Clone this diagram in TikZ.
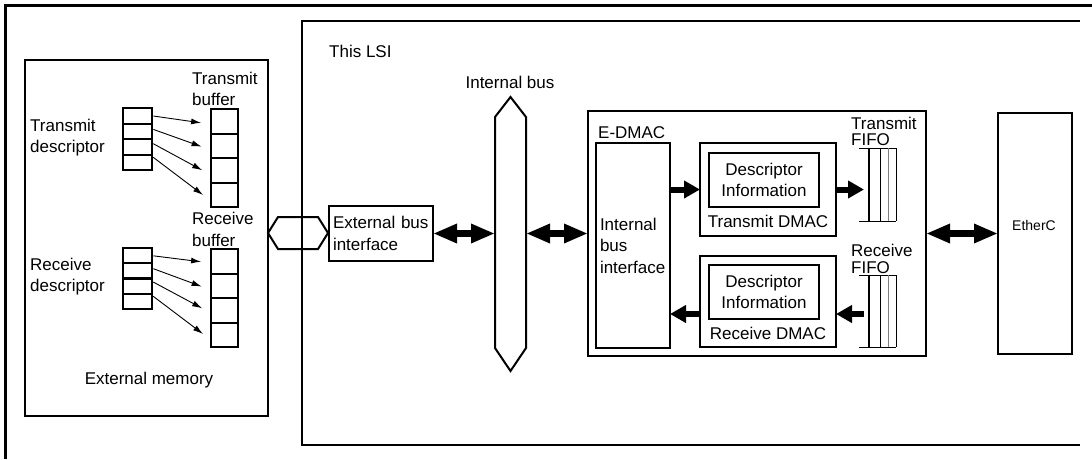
\documentclass[tikz,border=0pt]{standalone}
\usepackage{fontspec}
\setmainfont{Liberation Sans}
\usetikzlibrary{arrows.meta}
\begin{document}
\begin{tikzpicture}[x=1pt,y=-1pt,
  font=\fontsize{17}{21.5}\selectfont,
  box/.style={draw, line width=2pt, inner sep=0pt, outer sep=0pt},
  cell/.style={draw, line width=2pt, inner sep=0pt, outer sep=0pt},
  ghost/.style={inner sep=0pt, outer sep=0pt},
  txt/.style={inner sep=0pt, align=left},
  ctxt/.style={inner sep=0pt, align=center},
  fifotxt/.style={inner sep=0pt, align=left, font=\fontsize{17}{16.5}\selectfont},
  bigarr/.style={line width=6.5pt, {Triangle[length=24pt,width=18pt]}-{Triangle[length=24pt,width=18pt]}},
  smallarr/.style={line width=6pt, -{Triangle[length=16pt,width=17pt]}},
  thinarr/.style={line width=0.9pt, -{Latex[length=10pt,width=6pt]}, shorten <=2pt, shorten >=10pt},
  fifoline/.style={line width=1pt},
]
\useasboundingbox (0,0) rectangle (1092,459);

% outer frame and LSI frame
\draw[line width=2.5pt] (1092,5.5) -- (5.5,5.5) -- (5.5,459);
\draw[line width=1.8pt] (1080,21) -- (302,21) -- (302,445) -- (1080,445);

% external memory
\node[box, minimum width=243pt, minimum height=356pt] (extmem) at (146.5,238) {};
\node[ctxt] (extmemlbl) at (149,380) {External memory};

\foreach \i/\y in {1/115.75,2/131.25,3/146.75,4/162.25}
  \node[cell, minimum width=29pt, minimum height=15.5pt] (td\i) at (137,\y) {};
\foreach \i/\y in {1/121.25,2/145.75,3/170.25,4/194.75}
  \node[cell, minimum width=27pt, minimum height=24.5pt] (tb\i) at (224.5,\y) {};
\foreach \i/\y in {1/255.6,2/270.9,3/286.1,4/301.4}
  \node[cell, minimum width=29pt, minimum height=15.25pt] (rd\i) at (137,\y) {};
\foreach \i/\y in {1/261.25,2/285.75,3/310.25,4/334.75}
  \node[cell, minimum width=27pt, minimum height=24.5pt] (rb\i) at (224.5,\y) {};

\node[txt, anchor=west] (tdlbl) at (30,137.5) {Transmit\\descriptor};
\node[txt, anchor=west] (tblbl) at (192,89) {Transmit\\buffer};
\node[txt, anchor=west] (rdlbl) at (30,276.5) {Receive\\descriptor};
\node[txt, anchor=west] (rblbl) at (192,229.5) {Receive\\buffer};

\foreach \i/\s/\e in {1/0/-3, 2/2.5/-4.25, 3/4/-4.75, 4/6.25/-6.25}
  \draw[thinarr] ([yshift=\s pt]td\i.east) -- ([yshift=\e pt]tb\i.west);
\foreach \i/\s/\e in {1/0/-1.75, 2/2.9/-4.25, 3/5/-2.75, 4/6.4/-5.25}
  \draw[thinarr] ([yshift=\s pt]rd\i.east) -- ([yshift=\e pt]rb\i.west);

% external bus connector
\node[ghost, minimum width=40pt, minimum height=32pt] (xcon) at (298,233) {};
\draw[line width=2pt] (xcon.north west) -- (xcon.north east) -- ([xshift=10pt]xcon.east)
  -- (xcon.south east) -- (xcon.south west) -- ([xshift=-10pt]xcon.west) -- cycle;

% LSI contents
\node[txt, anchor=west] (lsilbl) at (329,51.5) {This LSI};
\node[ctxt] (ibuslbl) at (510,82) {Internal bus};

\node[box, minimum width=104pt, minimum height=55pt, text width=96pt, align=left] (ebi) at (381,233.5) {External bus\\interface};

\node[ghost, minimum width=31pt, minimum height=231pt] (ibus) at (510.5,232.5) {};
\draw[line width=2pt] (ibus.north west) -- ([yshift=20pt]ibus.north) -- (ibus.north east)
  -- (ibus.south east) -- ([yshift=-23pt]ibus.south) -- (ibus.south west) -- cycle;

\node[box, minimum width=338pt, minimum height=245pt] (edmac) at (757,233.5) {};
\node[txt, anchor=west] (edmaclbl) at (598,132.5) {E-DMAC};

\node[box, minimum width=74pt, minimum height=205pt, text width=66pt, align=left] (ibi) at (633,245.5) {Internal\\bus\\interface};

\node[box, minimum width=136pt, minimum height=93pt] (tdmac) at (768,189.5) {};
\node[box, minimum width=110pt, minimum height=54pt, align=center] (tdesc) at (764,180) {Descriptor\\Information};
\node[ctxt] (tdmaclbl) at (768,221.5) {Transmit DMAC};

\node[box, minimum width=136pt, minimum height=91pt] (rdmac) at (768,301.5) {};
\node[box, minimum width=110pt, minimum height=54pt, align=center] (rdesc) at (764,292) {Descriptor\\Information};
\node[ctxt] (rdmaclbl) at (768,333.5) {Receive DMAC};

% FIFOs
\node[ghost, minimum width=27pt, minimum height=73pt] (tfifo) at (882.5,184.5) {};
\node[ghost, minimum width=27pt, minimum height=72pt] (rfifo) at (882.5,311) {};
\node[fifotxt, anchor=west] (tfifolbl) at (851,131.5) {Transmit\\FIFO};
\node[fifotxt, anchor=west] (rfifolbl) at (851,259) {Receive\\FIFO};
\foreach \f in {tfifo,rfifo}{
  \draw[fifoline] ([xshift=-10pt]\f.north west) -- (\f.north east);
  \draw[fifoline] ([xshift=-10pt]\f.south west) -- (\f.south east);
  \draw[line width=1.4pt] (\f.north west) -- (\f.south west);
  \draw[fifoline] ([xshift=11pt]\f.north west) -- ([xshift=11pt]\f.south west);
  \draw[fifoline, gray] ([xshift=19pt]\f.north west) -- ([xshift=19pt]\f.south west);
  \draw[fifoline] (\f.north east) -- (\f.south east);
}

% EtherC
\node[box, minimum width=74pt, minimum height=241pt] (ether) at (1035,233.5) {};
\node[ctxt, font=\fontsize{14}{17}\selectfont] (etherlbl) at (1034,225) {EtherC};

% connectors
\draw[bigarr] (ebi.east) -- (ebi.east -| ibus.west);
\draw[bigarr] (ibus.east |- ebi.east) -- (ebi.east -| edmac.west);
\draw[bigarr] (edmac.east) -- (ether.west);

\draw[smallarr] (ibi.east |- tdmac.west) -- (tdmac.west);
\draw[smallarr, shorten >=5pt] (tdmac.east) -- (tdmac.east -| tfifo.west);
\draw[smallarr] ([yshift=-12.5pt]rdmac.west) -- ([yshift=-12.5pt]rdmac.west -| ibi.east);
\draw[smallarr, shorten <=5pt] ([yshift=-12.5pt]rdmac.east -| rfifo.west) -- ([yshift=-12.5pt]rdmac.east);
\end{tikzpicture}
\end{document}
